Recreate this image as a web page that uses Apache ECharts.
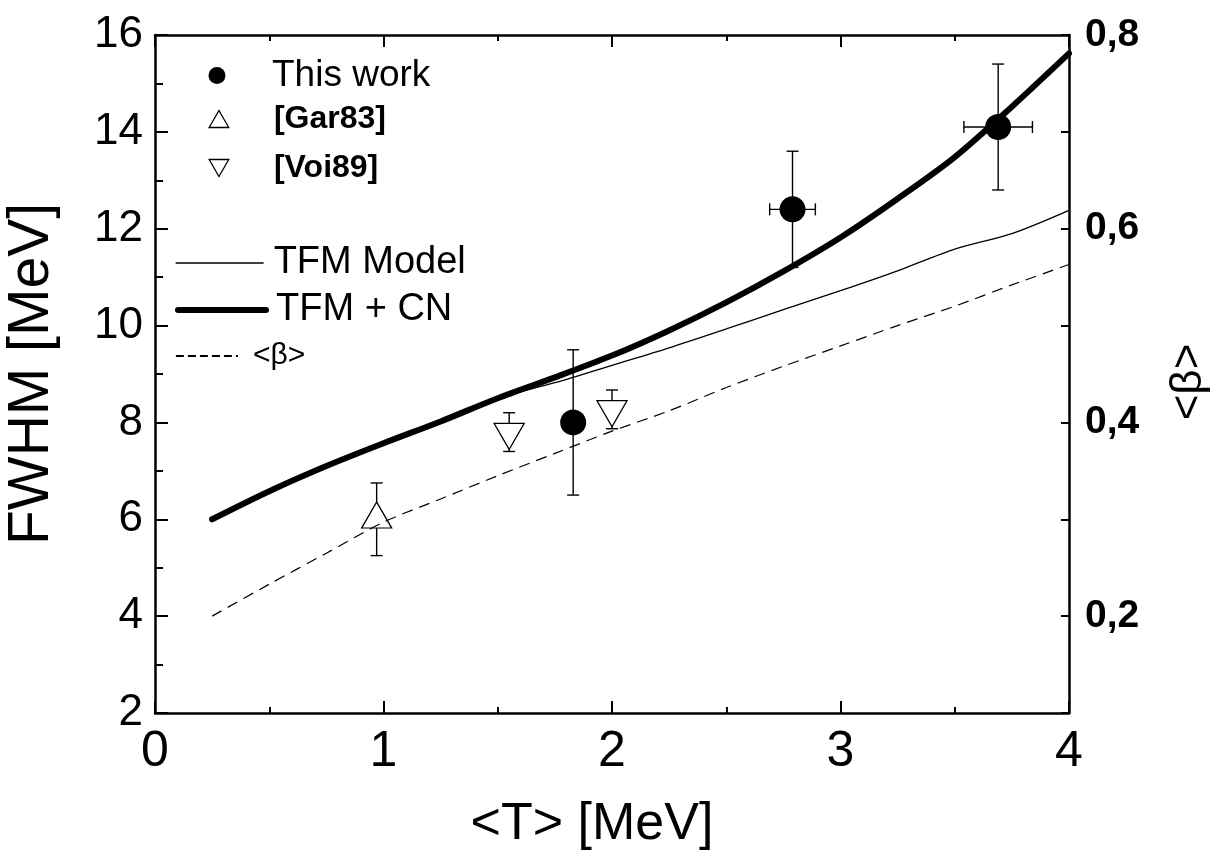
<!DOCTYPE html>
<html>
<head>
<meta charset="utf-8">
<script src="https://cdn.jsdelivr.net/npm/echarts@6/dist/echarts.min.js"></script>
<style>
  html, body { margin: 0; padding: 0; background: #fff; }
  #chart { width: 1221px; height: 855px; }
</style>
</head>
<body>
<div id="chart"></div>
<script>
// Model curves, sampled in <T> (MeV)
const curveT    = [0.25, 0.5, 0.75, 1.0, 1.25, 1.5, 1.75, 2.0, 2.25, 2.5, 2.75, 3.0, 3.25, 3.5, 3.75, 4.0];
const tfmModel  = [6.0, 6.58, 7.10, 7.57, 8.02, 8.50, 8.82, 9.18, 9.54, 9.93, 10.33, 10.72, 11.13, 11.58, 11.90, 12.38];
const tfmCN     = [6.0, 6.58, 7.10, 7.57, 8.02, 8.50, 8.93, 9.38, 9.90, 10.48, 11.12, 11.82, 12.62, 13.48, 14.52, 15.62];
const betaMean  = [0.200, 0.233, 0.265, 0.297, 0.321, 0.345, 0.368, 0.391, 0.412, 0.436, 0.458, 0.479, 0.500, 0.520, 0.542, 0.563];

// Measured widths
const thisWorkT       = [1.83, 2.79, 3.69];
const thisWorkTErr    = [0, 0.10, 0.15];
const thisWorkFwhm    = [8.0, 12.4, 14.1];
const thisWorkFwhmErr = [1.5, 1.2, 1.3];

const gar83T       = [0.97];
const gar83Fwhm    = [6.0];
const gar83FwhmErr = [0.75];

const voi89T       = [1.55, 2.0];
const voi89Fwhm    = [7.8, 8.27];
const voi89FwhmErr = [0.4, 0.4];

// Axis ranges and tick steps
const tRange    = [0, 4, 1];
const fwhmRange = [2, 16, 2];
const betaRange = [0.1, 0.8, 0.1];

const FONT = '"Liberation Sans", Arial, Helvetica, sans-serif';
const INK = '#000';

const triUp   = 'path://M15,0 L30,26 L0,26 Z';
const triDown = 'path://M0,0 L30,0 L15,26 Z';

const pairs = (xs, ys) => xs.map((x, i) => [x, ys[i]]);

// rows: [T, FWHM, T error, FWHM error]
const errorRows = []
  .concat(thisWorkT.map((t, i) => [t, thisWorkFwhm[i], thisWorkTErr[i], thisWorkFwhmErr[i]]))
  .concat(gar83T.map((t, i) => [t, gar83Fwhm[i], 0, gar83FwhmErr[i]]))
  .concat(voi89T.map((t, i) => [t, voi89Fwhm[i], 0, voi89FwhmErr[i]]));

function renderErrorBar(params, api) {
  const x = api.value(0), y = api.value(1), ex = api.value(2), ey = api.value(3);
  const c = api.coord([x, y]);
  const style = { stroke: INK, lineWidth: 1.4 };
  const cap = 6;
  const kids = [];
  if (ey > 0) {
    const hi = api.coord([x, y + ey]), lo = api.coord([x, y - ey]);
    kids.push({ type: 'line', shape: { x1: c[0], y1: hi[1], x2: c[0], y2: lo[1] }, style });
    kids.push({ type: 'line', shape: { x1: c[0] - cap, y1: hi[1], x2: c[0] + cap, y2: hi[1] }, style });
    kids.push({ type: 'line', shape: { x1: c[0] - cap, y1: lo[1], x2: c[0] + cap, y2: lo[1] }, style });
  }
  if (ex > 0) {
    const l = api.coord([x - ex, y]), r = api.coord([x + ex, y]);
    kids.push({ type: 'line', shape: { x1: l[0], y1: c[1], x2: r[0], y2: c[1] }, style });
    kids.push({ type: 'line', shape: { x1: l[0], y1: c[1] - cap, x2: l[0], y2: c[1] + cap }, style });
    kids.push({ type: 'line', shape: { x1: r[0], y1: c[1] - cap, x2: r[0], y2: c[1] + cap }, style });
  }
  return { type: 'group', children: kids };
}

const frameLine = { show: true, onZero: false, lineStyle: { color: INK, width: 2.5 } };
const tickStyle = { color: INK, width: 2 };

// one legend block per entry, so each row sits at its own height
function symbolLegend(name, top, textStyle) {
  return {
    orient: 'vertical', left: 208.5, top: top, padding: 0,
    itemWidth: 100, itemHeight: 17, selectedMode: false,
    itemStyle: { borderWidth: 'inherit', opacity: 1 },
    textStyle: Object.assign({ color: INK, fontFamily: FONT }, textStyle),
    data: [{ name: name }]
  };
}
function lineLegend(name, top, width, fontSize, gap, lineStyle) {
  return {
    orient: 'vertical', left: 175, top: top, padding: 0,
    itemWidth: width, itemHeight: 20, selectedMode: false,
    itemStyle: { color: 'rgba(0,0,0,0)', borderWidth: 0 },
    lineStyle: lineStyle,
    textStyle: { color: INK, fontFamily: FONT, fontSize: fontSize, padding: [0, 0, 0, gap] },
    data: [{ name: name }]
  };
}

const chart = echarts.init(document.getElementById('chart'), null, { renderer: 'canvas' });

chart.setOption({
  backgroundColor: '#fff',
  animation: false,
  grid: { left: 155, right: 152, top: 35, bottom: 142, outerBoundsMode: 'none' },
  xAxis: [
    {
      type: 'value', position: 'bottom',
      min: tRange[0], max: tRange[1], interval: tRange[2],
      axisLine: frameLine,
      axisTick: { inside: true, length: 12, lineStyle: tickStyle },
      minorTick: { show: true, splitNumber: 2, length: 6, lineStyle: tickStyle },
      splitLine: { show: false }, minorSplitLine: { show: false },
      axisLabel: { color: INK, fontFamily: FONT, fontSize: 50, margin: 14 },
      name: '<T> [MeV]', nameLocation: 'middle', nameGap: 86,
      nameTextStyle: { color: INK, fontFamily: FONT, fontSize: 52, padding: [0, 40, 0, 0] }
    },
    {
      type: 'value', position: 'top',
      min: tRange[0], max: tRange[1], interval: tRange[2],
      axisLine: frameLine,
      axisTick: { inside: true, length: 12, lineStyle: tickStyle },
      minorTick: { show: true, splitNumber: 2, length: 6, lineStyle: tickStyle },
      splitLine: { show: false }, minorSplitLine: { show: false },
      axisLabel: { show: false }
    }
  ],
  yAxis: [
    {
      type: 'value', position: 'left',
      min: fwhmRange[0], max: fwhmRange[1], interval: fwhmRange[2],
      axisLine: frameLine,
      axisTick: { inside: true, length: 13, lineStyle: tickStyle },
      minorTick: { show: true, splitNumber: 2, length: 8, lineStyle: tickStyle },
      splitLine: { show: false }, minorSplitLine: { show: false },
      axisLabel: { color: INK, fontFamily: FONT, fontSize: 44, margin: 12 },
      name: 'FWHM [MeV]', nameLocation: 'middle', nameRotate: 90, nameGap: 94,
      nameTextStyle: { color: INK, fontFamily: FONT, fontSize: 57 }
    },
    {
      type: 'value', position: 'right',
      min: betaRange[0], max: betaRange[1], interval: betaRange[2],
      axisLine: frameLine,
      axisTick: { inside: true, length: 8, lineStyle: tickStyle },
      splitLine: { show: false },
      axisLabel: {
        color: INK, fontFamily: FONT, fontSize: 39, fontWeight: 'bold', margin: 16,
        formatter: v => { const k = Math.round(v * 10); return k % 2 === 0 ? '0,' + k : ''; }
      },
      name: '<β>', nameLocation: 'middle', nameRotate: 90, nameGap: 98,
      nameTextStyle: { color: INK, fontFamily: FONT, fontSize: 44, padding: [0, 16, 0, 0] }
    }
  ],
  legend: [
    symbolLegend('This work', 57, { fontSize: 37 }),
    symbolLegend('[Gar83]', 103, { fontSize: 32, fontWeight: 'bold' }),
    symbolLegend('[Voi89]', 152, { fontSize: 32, fontWeight: 'bold' }),
    lineLegend('TFM Model', 244, 88, 38, 5, { width: 'inherit' }),
    lineLegend('TFM + CN', 291, 88, 38, 5, { width: 'inherit' }),
    lineLegend('<β>', 341, 62, 30, 10, { width: 1.8, type: [8, 4] })
  ],
  series: [
    {
      name: 'errors', type: 'custom', renderItem: renderErrorBar,
      data: errorRows, encode: { x: 0, y: 1 }, z: 2, silent: true
    },
    {
      name: 'This work', type: 'scatter', data: pairs(thisWorkT, thisWorkFwhm),
      symbol: 'circle', symbolSize: 26, itemStyle: { color: INK, opacity: 1 }, z: 3
    },
    {
      name: '[Gar83]', type: 'scatter', data: pairs(gar83T, gar83Fwhm),
      symbol: triUp, symbolSize: [30, 26], symbolOffset: [0, -4.3],
      itemStyle: { color: '#fff', borderColor: INK, borderWidth: 1.3, opacity: 1 }, z: 3
    },
    {
      name: '[Voi89]', type: 'scatter', data: pairs(voi89T, voi89Fwhm),
      symbol: triDown, symbolSize: [30, 26], symbolOffset: [0, 4.3],
      itemStyle: { color: '#fff', borderColor: INK, borderWidth: 1.3, opacity: 1 }, z: 3
    },
    {
      name: 'TFM Model', type: 'line', data: pairs(curveT, tfmModel),
      symbol: 'none', smooth: 0.3, color: INK,
      lineStyle: { color: INK, width: 1.3 }, z: 4
    },
    {
      name: 'TFM + CN', type: 'line', data: pairs(curveT, tfmCN),
      symbol: 'none', smooth: 0.3, color: INK,
      lineStyle: { color: INK, width: 6, cap: 'round' }, z: 4
    },
    {
      name: '<β>', type: 'line', yAxisIndex: 1, data: pairs(curveT, betaMean),
      symbol: 'none', smooth: 0.3, color: INK,
      lineStyle: { color: INK, width: 1.2, type: [11, 7] }, z: 4
    }
  ]
});
</script>
</body>
</html>
